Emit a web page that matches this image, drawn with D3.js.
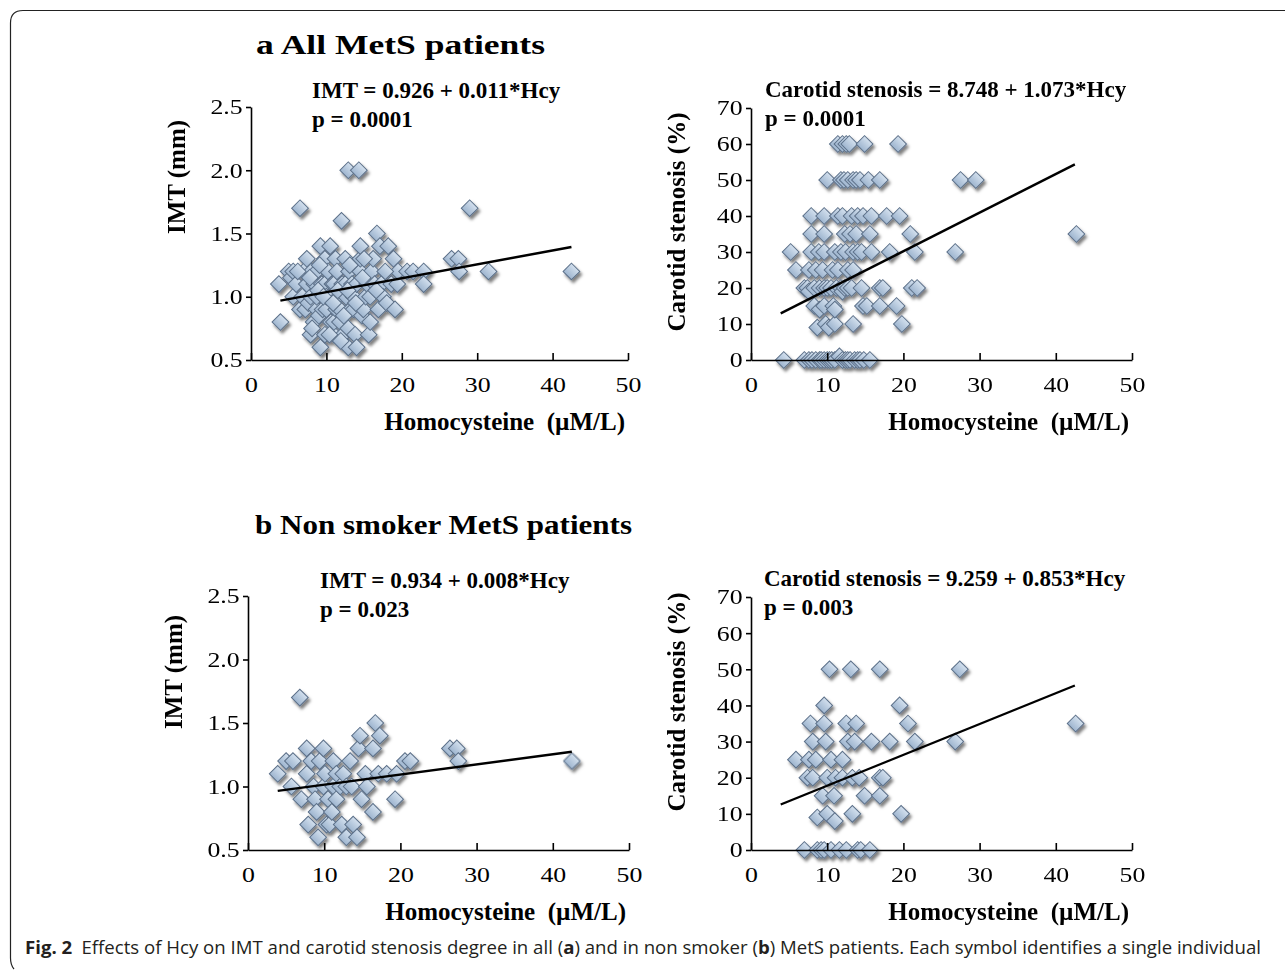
<!DOCTYPE html>
<html>
<head>
<meta charset="utf-8">
<script src="https://cdn.jsdelivr.net/npm/d3@7"></script>
<style>
  body { margin: 0; background: #fff; }
  svg { display: block; }
  .tick text { font-family: "Liberation Serif", "Times New Roman", serif; font-size: 21.5px; fill: #000; }
  .bold { font-family: "Liberation Serif", "Times New Roman", serif; font-weight: bold; fill: #000; white-space: pre; }
</style>
</head>
<body>
<div id="chart"></div>
<script>
// tick values
var hcyTicks = [0, 10, 20, 30, 40, 50];
var imtTicks = [0.5, 1.0, 1.5, 2.0, 2.5];
var stenTicks = [0, 10, 20, 30, 40, 50, 60, 70];

// a: all MetS patients - IMT
var allImtHcy = [3.7,3.9,5.0,5.3,5.6,5.6,6.0,6.5,6.5,6.8,7.0,7.2,7.4,7.4,7.6,7.9,7.9,8.0,8.3,8.4,8.7,8.7,8.7,9.0,9.2,9.2,9.4,9.5,9.8,9.8,9.8,10.0,10.0,10.2,10.5,10.5,10.6,10.8,11.0,11.0,11.0,11.2,11.3,11.4,11.6,11.8,11.8,12.0,12.1,12.2,12.5,12.5,12.6,12.9,12.9,12.9,13.0,13.2,13.4,13.6,13.6,13.8,13.8,14.0,14.0,14.3,14.5,14.5,14.5,14.7,14.9,15.2,15.4,15.6,15.8,15.8,16.0,16.2,16.4,16.7,16.9,17.1,17.3,17.5,18.0,18.2,18.6,18.9,19.1,19.4,19.5,20.7,21.5,22.9,22.9,26.6,27.5,27.6,29.0,31.5,42.5,
  6.2,7.8,8.9,9.6,10.4,11.5,12.3,13.1,13.9,14.8,10.9,12.8,8.1,15.0,16.6,17.8,9.1,11.9];
var allImtVal = [1.1,0.8,1.2,1.15,1.2,1.0,1.1,1.7,0.9,1.0,1.2,0.9,1.3,1.1,0.95,0.7,1.0,1.2,0.8,1.1,0.9,1.2,1.0,0.85,1.4,0.6,1.1,0.9,1.3,0.7,1.1,0.9,1.0,1.2,1.4,1.0,0.8,1.1,0.7,0.8,1.1,1.3,0.9,1.2,1.0,0.8,0.9,1.6,1.1,0.7,1.1,1.3,1.0,0.6,0.75,2.0,1.2,0.9,1.1,0.9,1.0,0.7,1.25,0.6,1.1,2.0,1.2,1.3,1.4,0.85,0.9,1.0,1.1,0.7,0.8,1.0,1.2,1.3,1.1,1.5,0.9,1.4,1.1,1.0,0.95,1.4,1.1,1.3,0.9,1.1,1.2,1.2,1.2,1.2,1.1,1.3,1.3,1.2,1.7,1.2,1.2,
  1.2,1.15,1.05,1.0,0.7,1.05,0.85,1.25,0.95,1.15,0.95,1.05,0.75,1.3,1.05,1.2,1.25,0.65];

// a: all MetS patients - carotid stenosis
var allStenHcy = [4.3,7.0,7.6,8.0,8.5,9.0,9.2,9.6,10.0,10.3,10.6,11.0,11.6,12.0,12.4,12.7,13.0,13.6,14.0,14.3,14.8,15.6,
  8.7,9.8,10.2,11.0,13.4,19.8,
  8.3,9.0,9.6,10.8,11.0,14.7,15.2,16.9,19.1,
  7.0,7.4,7.6,8.3,9.0,9.6,10.0,10.5,11.2,11.8,12.0,12.3,12.7,13.2,14.5,16.9,17.3,21.1,21.8,
  5.9,7.6,8.5,9.4,10.7,11.4,12.7,13.4,
  5.2,7.9,8.9,9.6,11.0,11.8,12.4,13.4,14.0,14.5,15.8,18.2,21.5,26.8,
  7.9,9.6,12.3,13.0,13.8,15.6,20.9,42.7,
  7.9,9.6,11.4,12.0,13.2,14.0,14.7,15.8,17.8,19.5,
  10.0,11.8,12.2,12.7,13.4,13.8,14.3,15.4,16.9,27.5,29.5,
  11.4,12.0,12.5,12.9,14.9,19.3];
var allStenVal = [0,0,0,0,0,0,0,0,0,0,0,0,1,0,0,0,0,0,0,0,0,0,
  9,10,9,10,10,10,
  15,14,15,15,14,15,15,15,15,
  20,20,19,20,20,20,20,20,20,20,19,20,20,20,20,20,20,20,20,
  25,25,25,25,25,25,25,25,
  30,30,30,30,30,30,30,30,30,30,30,30,30,30,
  35,35,35,35,35,35,35,35,
  40,40,40,40,40,40,40,40,40,40,
  50,50,50,50,50,50,50,50,50,50,50,
  60,60,60,60,60,60];

// b: non smoker MetS patients - IMT
var nsImtHcy = [3.9,5.0,5.9,5.7,6.8,7.0,7.7,7.7,7.9,8.3,8.6,8.8,9.0,9.2,9.4,9.9,9.9,10.1,10.3,10.5,10.7,11.0,11.2,11.2,11.6,11.6,12.1,12.3,12.5,12.9,12.9,13.4,13.6,13.8,14.3,14.5,14.7,14.9,15.4,15.6,16.4,16.4,16.7,17.1,17.3,18.2,19.3,19.5,20.6,21.3,26.5,27.4,27.6,42.5];
var nsImtVal = [1.1,1.2,1.2,1.0,1.7,0.9,1.3,1.1,0.7,1.2,1.0,0.9,0.8,0.6,1.2,1.3,1.0,1.1,0.7,0.9,0.7,0.8,1.2,1.0,1.1,0.9,1.0,0.7,1.1,0.6,1.0,1.2,1.0,0.7,0.6,1.3,1.4,0.9,1.1,1.0,0.8,1.3,1.5,1.1,1.4,1.1,0.9,1.1,1.2,1.2,1.3,1.3,1.2,1.2];

// b: non smoker MetS patients - carotid stenosis
var nsStenHcy = [7.0,8.7,9.2,9.6,10.5,11.6,12.5,14.0,14.4,15.6,
  8.7,10.0,11.0,13.3,19.7,
  9.4,10.9,14.9,16.9,
  7.4,8.1,10.0,11.1,12.0,13.3,14.2,16.9,17.3,
  5.9,7.6,8.5,10.5,12.0,
  8.1,9.8,12.7,13.6,15.8,18.2,21.5,26.8,
  7.8,9.6,12.5,13.8,20.6,42.6,
  9.6,19.5,
  10.3,13.1,16.9,27.4];
var nsStenVal = [0,0,0,0,0,0,0,0,0,0,
  9,10,8,10,10,
  15,15,15,15,
  20,20,20,20,20,20,20,20,20,
  25,25,25,25,25,
  30,30,30,30,30,30,30,30,
  35,35,35,35,35,35,
  40,40,
  50,50,50,50];

// regression lines: [intercept, slope], drawn over the Hcy range below
var fitAllImt = [0.926, 0.011];
var fitAllSten = [8.748, 1.073];
var fitNsImt = [0.934, 0.008];
var fitNsSten = [9.259, 0.853];
var fitHcyRange = [3.9, 42.5];

var W = 1285, H = 970;
var svg = d3.select("#chart").append("svg").attr("width", W).attr("height", H);

var defs = svg.append("defs");
var grad = defs.append("linearGradient").attr("id", "dia").attr("x1", 0).attr("y1", 0).attr("x2", 0).attr("y2", 1);
grad.append("stop").attr("offset", "0%").attr("stop-color", "#d3e0ee");
grad.append("stop").attr("offset", "100%").attr("stop-color", "#9eb5cf");
var flt = defs.append("filter").attr("id", "shadow").attr("x", "-50%").attr("y", "-50%").attr("width", "200%").attr("height", "200%");
flt.append("feDropShadow").attr("dx", 2).attr("dy", 3).attr("stdDeviation", 1.8)
  .attr("flood-color", "#000").attr("flood-opacity", 0.5);

// figure frame
svg.append("path")
  .attr("d", "M1285,10.5 H23 Q10.5,10.5 10.5,23 V958 Q10.5,965 14,969")
  .attr("fill", "none").attr("stroke", "#222").attr("stroke-width", 1.2);

// panel titles
svg.append("text").attr("class", "bold").attr("x", 256).attr("y", 54)
  .style("font-size", "27px").attr("textLength", 289).attr("lengthAdjust", "spacingAndGlyphs")
  .text("a All MetS patients");
svg.append("text").attr("class", "bold").attr("x", 255).attr("y", 534)
  .style("font-size", "27px").attr("textLength", 377).attr("lengthAdjust", "spacingAndGlyphs")
  .text("b Non smoker MetS patients");

var diamond = d3.symbol().type(d3.symbolSquare).size(140);

function panel(opt) {
  var x = d3.scaleLinear().domain([0, 50]).range([opt.x0, opt.x1]);
  var y = d3.scaleLinear().domain(opt.yDomain).range([opt.y0, opt.y1]);
  var g = svg.append("g");

  // points
  var pts = opt.hcy.map(function(d, i) { return [d, opt.val[i]]; });
  g.append("g").attr("filter", "url(#shadow)")
    .selectAll("path").data(pts).enter().append("path")
    .attr("d", diamond)
    .attr("transform", function(d) { return "translate(" + x(d[0]) + "," + y(d[1]) + ") rotate(45)"; })
    .attr("fill", "url(#dia)")
    .attr("stroke", "#5c7089").attr("stroke-width", 1);

  // regression line
  var line = d3.line()
    .x(function(d) { return x(d); })
    .y(function(d) { return y(opt.fit[0] + opt.fit[1] * d); });
  g.append("path").attr("d", line(fitHcyRange))
    .attr("fill", "none").attr("stroke", "#000").attr("stroke-width", 2.4);

  // axes
  var xAxis = d3.axisBottom(x).tickValues(hcyTicks).tickSizeInner(-7).tickSizeOuter(0).tickPadding(17);
  var gx = g.append("g").attr("transform", "translate(0," + opt.y0 + ")").call(xAxis);
  var yAxis = d3.axisLeft(y).tickValues(opt.yTicks).tickSizeInner(5).tickSizeOuter(0).tickPadding(2)
    .tickFormat(opt.fmt);
  var gy = g.append("g").attr("transform", "translate(" + opt.x0 + ",0)").call(yAxis);
  [gx, gy].forEach(function(a) {
    a.selectAll("path, line").attr("stroke", "#000").attr("stroke-width", 1.6);
    a.selectAll("text").attr("transform", "scale(1.2,1)");
  });

  // labels
  g.append("text").attr("class", "bold")
    .attr("x", opt.x1 - 3).attr("y", opt.y0 + 70).attr("text-anchor", "end")
    .style("font-size", "25px").text("Homocysteine  (\u00b5M/L)");
  g.append("text").attr("class", "bold")
    .attr("transform", "translate(" + (opt.x0 - 66) + "," + opt.yMid + ") rotate(-90)")
    .attr("text-anchor", "middle").style("font-size", "25px").text(opt.yTitle);
  g.append("text").attr("class", "bold")
    .attr("x", opt.eqX).attr("y", opt.eqY).style("font-size", "23px").text(opt.eq);
  g.append("text").attr("class", "bold")
    .attr("x", opt.eqX).attr("y", opt.eqY + 29).style("font-size", "23px").text(opt.p);
}

var fmt1 = d3.format(".1f");
var fmt0 = d3.format("d");

panel({ x0: 251, x1: 628, y0: 360, y1: 107, yDomain: [0.5, 2.5], yTicks: imtTicks, fmt: fmt1,
  hcy: allImtHcy, val: allImtVal, fit: fitAllImt, yTitle: "IMT (mm)", yMid: 177,
  eq: "IMT = 0.926 + 0.011*Hcy", p: "p = 0.0001", eqX: 312, eqY: 98 });
panel({ x0: 751, x1: 1132, y0: 360, y1: 108, yDomain: [0, 70], yTicks: stenTicks, fmt: fmt0,
  hcy: allStenHcy, val: allStenVal, fit: fitAllSten, yTitle: "Carotid stenosis (%)", yMid: 222,
  eq: "Carotid stenosis = 8.748 + 1.073*Hcy", p: "p = 0.0001", eqX: 765, eqY: 97 });
panel({ x0: 248, x1: 629, y0: 850, y1: 596, yDomain: [0.5, 2.5], yTicks: imtTicks, fmt: fmt1,
  hcy: nsImtHcy, val: nsImtVal, fit: fitNsImt, yTitle: "IMT (mm)", yMid: 672,
  eq: "IMT = 0.934 + 0.008*Hcy", p: "p = 0.023", eqX: 320, eqY: 588 });
panel({ x0: 751, x1: 1132, y0: 850, y1: 597, yDomain: [0, 70], yTicks: stenTicks, fmt: fmt0,
  hcy: nsStenHcy, val: nsStenVal, fit: fitNsSten, yTitle: "Carotid stenosis (%)", yMid: 702,
  eq: "Carotid stenosis = 9.259 + 0.853*Hcy", p: "p = 0.003", eqX: 764, eqY: 586 });

// caption
var cap = svg.append("text").attr("x", 0).attr("y", 0)
  .style("font-family", "'Open Sans', 'Noto Sans', sans-serif").style("font-size", "18px").attr("fill", "#231f20");
cap.append("tspan").style("font-weight", "bold").text("Fig. 2");
cap.append("tspan").text("\u2002Effects of Hcy on IMT and carotid stenosis degree in all (");
cap.append("tspan").style("font-weight", "bold").text("a");
cap.append("tspan").text(") and in non smoker (");
cap.append("tspan").style("font-weight", "bold").text("b");
cap.append("tspan").text(") MetS patients. Each symbol identifies a single individual");
var capW = cap.node().getComputedTextLength();
cap.attr("transform", "translate(25,954) scale(" + (1237 / capW) + ",1)");
</script>
</body>
</html>
